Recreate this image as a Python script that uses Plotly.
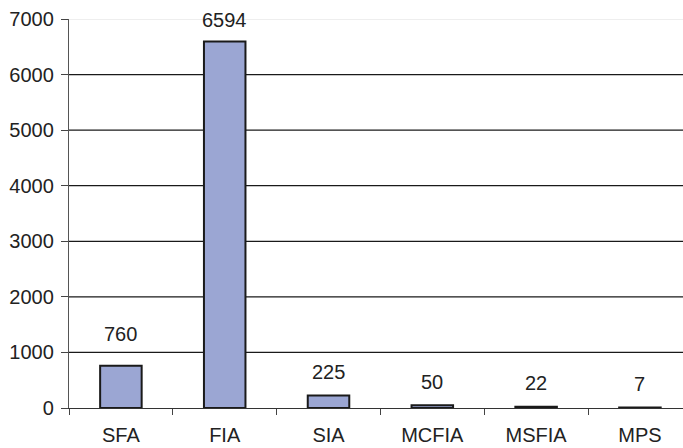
import plotly.graph_objects as go

categories = ["SFA", "FIA", "SIA", "MCFIA", "MSFIA", "MPS"]
counts = [760, 6594, 225, 50, 22, 7]
y_ticks = [0, 1000, 2000, 3000, 4000, 5000, 6000, 7000]
# vertical gap (px) between each bar top and its value label centre
label_gap = [32, 22, 24, 23, 24, 24]

FONT = "Liberation Sans, Arial, sans-serif"
TEXT = "#222222"
SIZE = 20

fig = go.Figure()
fig.add_trace(go.Bar(
    x=categories,
    y=counts,
    width=0.4,
    marker=dict(color="#9ba6d3", line=dict(color="#1a1a1a", width=2)),
    showlegend=False,
))

for cat, val, gap in zip(categories, counts, label_gap):
    fig.add_annotation(
        x=cat, y=val, text=str(val), showarrow=False,
        yanchor="middle", yshift=gap,
        font=dict(family=FONT, size=SIZE, color=TEXT),
    )

# horizontal grid lines across the full width
for t in y_ticks[1:]:
    fig.add_shape(
        type="line", xref="paper", yref="y", x0=0, x1=1, y0=t, y1=t,
        line=dict(color="#e8e8e8" if t == y_ticks[-1] else "#1a1a1a", width=1.3),
        layer="below",
    )

fig.update_layout(
    width=683, height=448,
    margin=dict(l=69, r=0, t=19, b=40),
    paper_bgcolor="white", plot_bgcolor="white",
    font=dict(family=FONT, size=SIZE, color=TEXT),
    bargap=0.6,
)
fig.update_xaxes(
    type="category",
    range=[-0.5, 5.415],
    tickson="boundaries",
    ticks="outside", ticklen=6, tickwidth=1, tickcolor="#444444",
    showline=True, linecolor="#333333", linewidth=1.3,
    showgrid=False, zeroline=False,
    ticklabelstandoff=9,
    tickfont=dict(family=FONT, size=SIZE, color=TEXT),
)
fig.update_yaxes(
    range=[0, 7000],
    tickvals=y_ticks,
    ticks="outside", ticklen=7, tickwidth=1, tickcolor="#444444",
    showline=True, linecolor="#555555", linewidth=1.3,
    showgrid=False, zeroline=False,
    ticklabelstandoff=3,
    tickfont=dict(family=FONT, size=SIZE, color=TEXT),
)

fig.write_html("out.html")
